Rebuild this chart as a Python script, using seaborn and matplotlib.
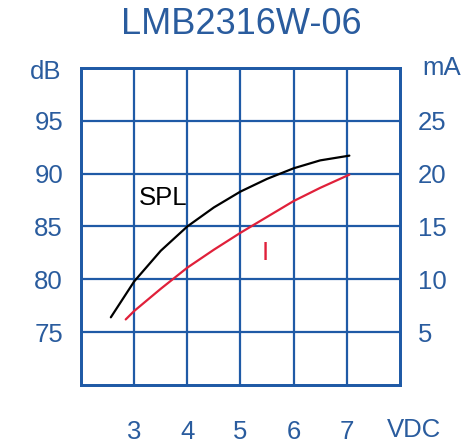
import matplotlib
matplotlib.use("Agg")
import matplotlib.pyplot as plt
import seaborn as sns
import pandas as pd

# Values
spl_vdc = [2.56, 3.0, 3.5, 4.0, 4.5, 5.0, 5.5, 6.0, 6.5, 7.05]
spl_db = [76.4, 79.8, 82.7, 85.0, 86.8, 88.3, 89.5, 90.5, 91.25, 91.7]

cur_vdc = [2.84, 3.0, 3.5, 4.0, 4.5, 5.0, 5.5, 6.0, 6.5, 7.05]
cur_ma = [6.2, 7.0, 9.1, 11.1, 12.8, 14.4, 15.9, 17.4, 18.65, 19.9]

x_ticks = [3, 4, 5, 6, 7]
db_ticks = [75, 80, 85, 90, 95]
ma_ticks = [5, 10, 15, 20, 25]

title = "LMB2316W-06"
grid_blue = "#1f5aa6"
text_blue = "#2a5c9e"

sns.set_style("white")
plt.rcParams["font.family"] = ["Liberation Sans", "DejaVu Sans"]


def make_chart():
    df_spl = pd.DataFrame({"VDC": spl_vdc, "dB": spl_db})
    df_cur = pd.DataFrame({"VDC": cur_vdc, "mA": cur_ma})

    fig = plt.figure(figsize=(4.66, 4.44), dpi=100)
    ax = fig.add_axes([0.174, 0.133, 0.684, 0.714])
    ax2 = ax.twinx()

    sns.lineplot(data=df_spl, x="VDC", y="dB", ax=ax, color="black", linewidth=1.6)
    sns.lineplot(data=df_cur, x="VDC", y="mA", ax=ax2, color="#e0203a", linewidth=1.6)

    ax.set_xlim(2, 8)
    ax.set_ylim(70, 100)
    ax2.set_ylim(0, 30)

    # grid: one line per volt / per 5 dB
    for v in range(3, 8):
        ax.axvline(v, color=grid_blue, linewidth=1.6, zorder=0)
    for d in db_ticks:
        ax.axhline(d, color=grid_blue, linewidth=1.6, zorder=0)

    fs = 18.5
    ax.set_xticks(x_ticks)
    ax.set_yticks(db_ticks)
    ax2.set_yticks(ma_ticks)
    ax.tick_params(axis="x", length=0, pad=25, labelsize=fs, labelcolor=text_blue)
    ax.tick_params(axis="y", length=0, pad=13, labelsize=fs, labelcolor=text_blue)
    ax2.tick_params(axis="y", length=0, pad=13, labelsize=fs, labelcolor=text_blue)
    ax.set_xlabel("")
    ax.set_ylabel("")
    ax2.set_ylabel("")

    for a in (ax, ax2):
        for s in a.spines.values():
            s.set_visible(True)
            s.set_color(grid_blue)
            s.set_linewidth(2)

    ax.text(1.046, -0.142, "VDC", transform=ax.transAxes, ha="center", va="center",
            fontsize=fs, color=text_blue)
    ax.text(-0.11, 0.987, "dB", transform=ax.transAxes, ha="center", va="center",
            fontsize=fs, color=text_blue)
    ax.text(1.13, 1.0, "mA", transform=ax.transAxes, ha="center", va="center",
            fontsize=fs, color=text_blue)

    ax.text(3.54, 87.7, "SPL", ha="center", va="center", fontsize=fs, color="black")
    ax2.text(5.47, 12.5, "I", ha="center", va="center", fontsize=fs, color="#e0203a")

    fig.text(241 / 466, 1 - 24.5 / 444, title, ha="center", va="center",
             fontsize=26, color=text_blue)

    fig.savefig("out.png", dpi=100, facecolor="white")


if __name__ == "__main__":
    make_chart()
